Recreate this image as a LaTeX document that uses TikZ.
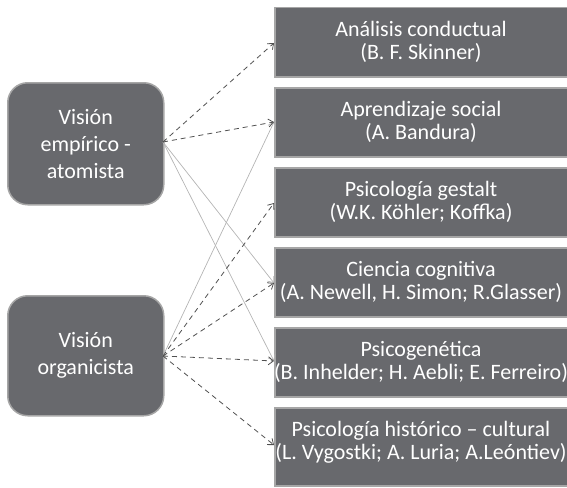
\documentclass[tikz,border=0pt]{standalone}
\usepackage{fontspec}
\setmainfont{Carlito}
\usetikzlibrary{arrows.meta}
\definecolor{boxfill}{HTML}{68696D}
\definecolor{boxline}{HTML}{A6A6A6}
\definecolor{dashc}{HTML}{505050}
\definecolor{solidc}{HTML}{B4B4B4}
\begin{document}
\begin{tikzpicture}[x=1pt,y=-1pt,
  rbox/.style={draw=boxline,line width=1.5pt,fill=boxfill,minimum width=300pt,minimum height=69pt,anchor=north west,inner sep=0pt},
  rtext/.style={text=white,align=center,inner sep=0pt,font=\fontsize{22}{23}\selectfont},
  lbox/.style={draw=boxline,line width=1.5pt,fill=boxfill,text=white,rounded corners=20pt,minimum width=156pt,anchor=north west,align=center,inner sep=0pt,font=\fontsize{22}{27}\selectfont},
  dasharr/.style={draw=dashc,line width=0.8pt,dash pattern=on 5pt off 4pt,-{Straight Barb[length=5pt,width=8pt]}},
  solarr/.style={draw=solidc,line width=0.7pt,-{Straight Barb[length=5pt,width=8pt]}}]
\useasboundingbox (0,0) rectangle (567,487);
\begin{scope}
\clip (0,0) rectangle (567,487);
\node[rbox] (b1) at (274,7) {};
\node[rbox] (b2) at (274,87) {};
\node[rbox] (b3) at (274,167) {};
\node[rbox] (b4) at (274,247) {};
\node[rbox] (b5) at (274,327) {};
\node[rbox,minimum height=78pt] (b6) at (274,407) {};
\end{scope}
\node[rtext] (t1) at (421,42) {Análisis conductual\\(B. F. Skinner)};
\node[rtext] (t2) at (421,122) {Aprendizaje social\\(A. Bandura)};
\node[rtext] (t3) at (421,202) {Psicología gestalt\\(W.K. Köhler; Koffka)};
\node[rtext] (t4) at (421,282) {Ciencia cognitiva\\(A. Newell, H. Simon; R.Glasser)};
\node[rtext] (t5) at (421,362) {Psicogenética\\(B. Inhelder; H. Aebli; E. Ferreiro)};
\node[rtext] (t6) at (421,442) {Psicología histórico – cultural\\(L. Vygostki; A. Luria; A.Leóntiev)};
\node[lbox,minimum height=122pt] (l1) at (7,82) {Visión\\empírico -\\atomista};
\node[lbox,minimum height=120pt] (l2) at (7,295) {Visión\\organicista};
\coordinate (o1) at (163,142);
\coordinate (o2) at (163,356);
\coordinate (e1) at (274,43);
\coordinate (e2) at (274,122);
\coordinate (e3) at (274,203);
\coordinate (e4) at (274,283);
\coordinate (e5) at (274,361);
\coordinate (e6) at (274,445);
\draw[solarr] (o1) -- (e4);
\draw[solarr] (o1) -- (e5);
\draw[solarr] (o2) -- (e2);
\draw[dasharr] (o1) -- (e1);
\draw[dasharr] (o1) -- (e2);
\draw[dasharr] (o2) -- (e3);
\draw[dasharr] (o2) -- (e4);
\draw[dasharr] (o2) -- (e5);
\draw[dasharr] (o2) -- (e6);
\end{tikzpicture}
\end{document}
